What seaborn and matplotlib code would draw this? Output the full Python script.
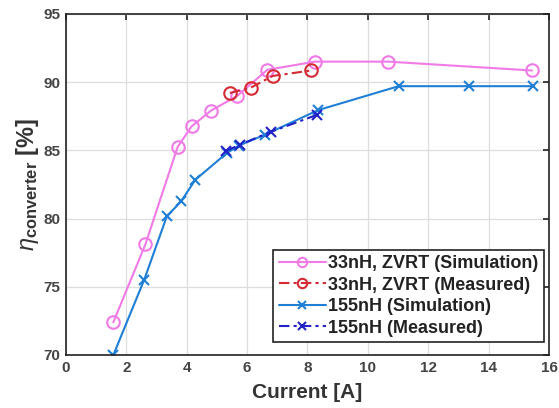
import matplotlib
matplotlib.use('Agg')
import matplotlib.pyplot as plt
import seaborn as sns
import pandas as pd

# Valores
sim33_x = [1.57, 2.63, 3.70, 4.16, 4.80, 5.68, 6.67, 8.25, 10.67, 15.44]
sim33_y = [72.4, 78.1, 85.25, 86.75, 87.9, 89.0, 90.9, 91.5, 91.5, 90.85]
meas33_x = [5.43, 6.13, 6.85, 8.12]
meas33_y = [89.2, 89.6, 90.45, 90.85]
sim155_x = [1.57, 2.59, 3.34, 3.81, 4.29, 5.33, 5.73, 6.6, 8.36, 11.02, 13.36, 15.46]
sim155_y = [70.0, 75.5, 80.15, 81.25, 82.85, 84.8, 85.35, 86.15, 87.95, 89.7, 89.7, 89.7]
meas155_x = [5.3, 5.75, 6.78, 8.32]
meas155_y = [84.95, 85.4, 86.35, 87.6]

labels = ['33nH, ZVRT (Simulation)', '33nH, ZVRT (Measured)',
          '155nH (Simulation)', '155nH (Measured)']

sns.set_style('whitegrid')
plt.rcParams['font.family'] = ['Liberation Sans', 'DejaVu Sans']
plt.rcParams['mathtext.fontset'] = 'custom'
plt.rcParams['mathtext.rm'] = 'Liberation Sans'
plt.rcParams['mathtext.bf'] = 'Liberation Sans:weight=bold'
plt.rcParams['mathtext.it'] = 'Liberation Sans:italic'

fig = plt.figure(figsize=(5.59, 4.08), dpi=100)
ax = fig.add_axes([0.118, 0.13, 0.864, 0.836])

series = [
    (sim33_x, sim33_y, '#f07ae6', 'o', '-'),
    (meas33_x, meas33_y, '#d42a34', 'o', (0, (5, 2, 1.5, 2))),
    (sim155_x, sim155_y, '#1f7fd6', 'x', '-'),
    (meas155_x, meas155_y, '#2222c8', 'x', (0, (5, 2, 1.5, 2))),
]
for (x, y, c, m, ls), lab in zip(series, labels):
    d = pd.DataFrame({'x': x, 'y': y})
    sns.lineplot(data=d, x='x', y='y', ax=ax, color=c, marker=m, linestyle=ls,
                 linewidth=1.5, markersize=9 if m == 'o' else 7,
                 markerfacecolor='none' if m == 'o' else c,
                 markeredgecolor=c, markeredgewidth=1.5, label=lab)

ax.set_xlim(0, 16)
ax.set_ylim(70, 95)
ax.set_xticks(range(0, 17, 2))
ax.set_yticks(range(70, 96, 5))
ax.grid(True, color='#dddddd', linewidth=0.9)
for s in ax.spines.values():
    s.set_color('#222222')
    s.set_linewidth(1.2)
ax.tick_params(direction='in', length=4, width=1.2, colors='#222222',
               top=True, right=True, labelsize=11, pad=4,
               labelcolor='#444444')
for t in ax.get_xticklabels() + ax.get_yticklabels():
    t.set_fontweight('bold')

ax.set_xlabel('Current [A]', fontsize=15, fontweight='bold', color='#333333', labelpad=6)
ax.set_ylabel(r'$\eta_{\mathbf{converter}}$ [%]', fontsize=17, fontweight='bold',
              color='#333333', labelpad=2)

leg = ax.legend(loc='lower right', bbox_to_anchor=(0.99, 0.038), borderaxespad=0,
                frameon=True, fancybox=False, framealpha=1,
                edgecolor='#222222', borderpad=0.3, labelspacing=0.25,
                handlelength=2.6, handletextpad=0.15, markerscale=0.75,
                prop={'weight': 'bold', 'size': 13})
leg.get_frame().set_linewidth(1.2)
for t in leg.get_texts():
    t.set_color('#222222')

fig.savefig('out.png', dpi=100)
